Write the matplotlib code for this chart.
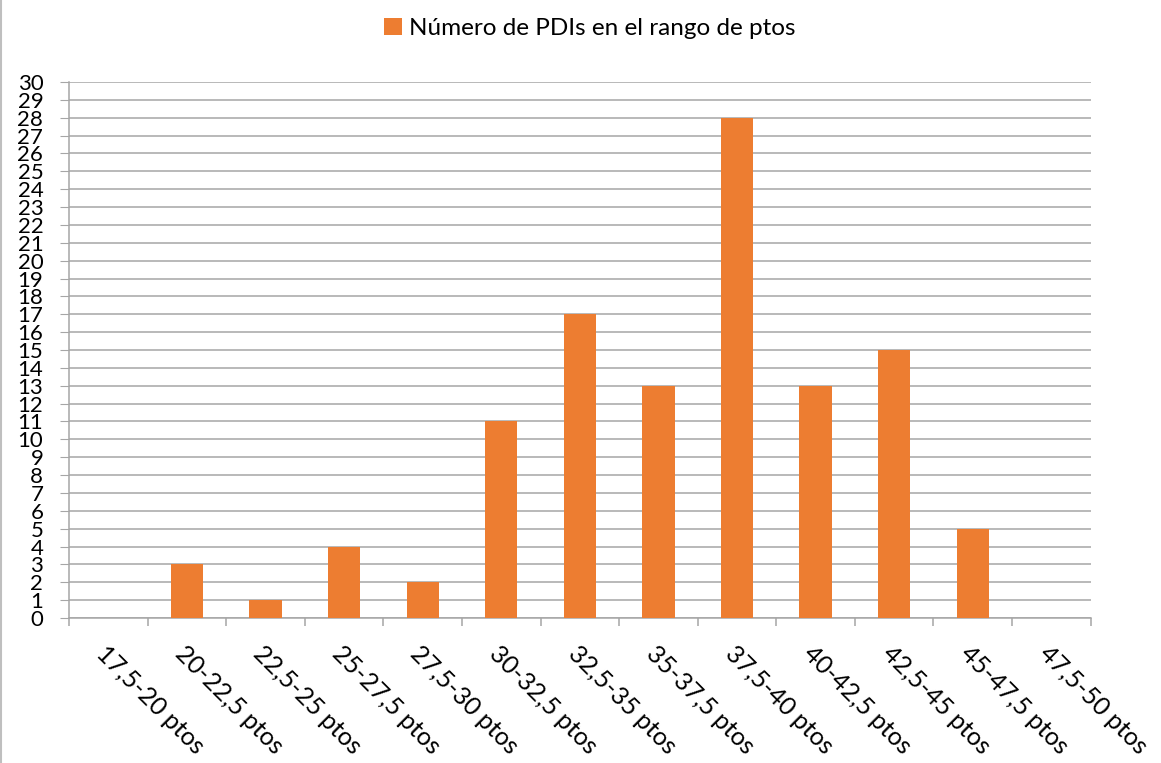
import matplotlib.pyplot as plt
import numpy as np

plt.rcParams['font.family'] = ['Lato', 'DejaVu Sans']

categories = ['17,5-20 ptos', '20-22,5 ptos', '22,5-25 ptos', '25-27,5 ptos',
              '27,5-30 ptos', '30-32,5 ptos', '32,5-35 ptos', '35-37,5 ptos',
              '37,5-40 ptos', '40-42,5 ptos', '42,5-45 ptos', '45-47,5 ptos',
              '47,5-50 ptos']
counts = [0, 3, 1, 4, 2, 11, 17, 13, 28, 13, 15, 5, 0]
series_name = 'Número de PDIs en el rango de ptos'

orange = '#ED7D31'
grid_c = '#A6A6A6'

fig = plt.figure(figsize=(11.61, 7.63), dpi=100)
ax = fig.add_axes([0.0594, 0.19, 0.8800, 0.7025])

x = np.arange(len(categories))
bars = ax.bar(x, counts, width=0.41, color=orange, zorder=3, label=series_name)

ax.set_xlim(-0.5, len(categories) - 0.5)
ax.set_ylim(0, 30)
ax.set_yticks(np.arange(0, 31, 1))
# Excel packs the 31 labels tightly; keep them just below touching
ax.tick_params(axis='y', labelsize=16, length=6.5, color=grid_c, pad=12)
ax.yaxis.grid(True, color=grid_c, lw=1.1, zorder=0)

ax.set_xticks(x)
ax.set_xticklabels(categories, rotation=-45, ha='left', va='top',
                   rotation_mode='anchor', fontsize=18)
ax.tick_params(axis='x', which='major', length=0, pad=17)
ax.set_xticks(np.arange(-0.5, len(categories), 1), minor=True)
ax.tick_params(axis='x', which='minor', length=6, color=grid_c, width=1.1)

for s in ['top', 'right']:
    ax.spines[s].set_visible(False)
for s in ['left', 'bottom']:
    ax.spines[s].set_color(grid_c)
    ax.spines[s].set_linewidth(1.1)

fig.legend(handles=[bars], labels=[series_name], loc='center',
           bbox_to_anchor=(0.508, 0.963), frameon=False, fontsize=17.5,
           handlelength=0.75, handleheight=0.75, handletextpad=0.3)

fig.add_artist(plt.Line2D([0.001, 0.001], [0, 1], color='#BFBFBF', lw=1.5,
                          transform=fig.transFigure))

fig.savefig('out.png', dpi=100)
